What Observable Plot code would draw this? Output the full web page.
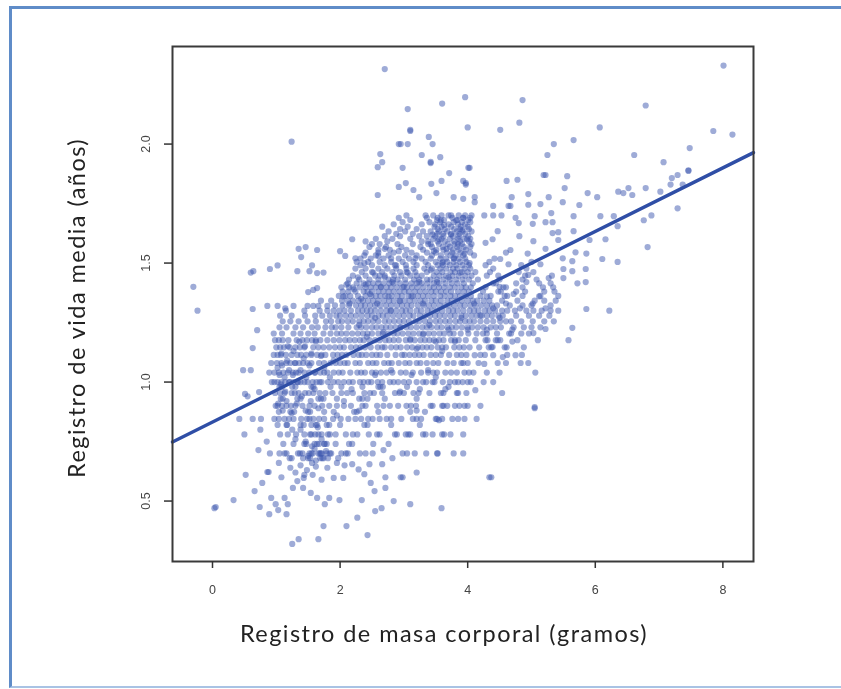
<!DOCTYPE html>
<html><head><meta charset="utf-8">
<script src="https://cdn.jsdelivr.net/npm/d3@7"></script>
<script src="https://cdn.jsdelivr.net/npm/@observablehq/plot@0.6"></script>
<style>
html,body{margin:0;padding:0;background:#fff;width:841px;height:689px;overflow:hidden}
#chart{position:absolute;left:0;top:0}
#chart svg{filter:blur(0.55px);background:transparent}
.spaced text{letter-spacing:1.45px}
#edge{position:absolute;left:9px;top:6px;width:840px;height:677px;border:3px solid #5f8cc8;border-bottom:2px solid #a9c3e4;box-sizing:content-box}
</style></head><body>
<div id="edge"></div>
<div id="chart"></div>
<script>
const xTicks = [0, 2, 4, 6, 8];
const yTicks = [0.5, 1.0, 1.5, 2.0];
const xTitle = "Registro de masa corporal (gramos)";
const yTitle = "Registro de vida media (años)";
const fitX = [-0.627, 8.48];
const fitY = [0.748, 1.964];

const scattered = [
[.03,.47],[-.3,1.40],[-.235,1.30],[1.24,2.01],[2.70,2.315],[8.01,2.33],[4.37,.60],[5.05,.895],
[3.06,2.147],[3.10,2.06],[3.10,2.055],[3.6,2.17],[3.96,2.197],[4.0,2.07],[2.92,2.0],[2.95,2.0],[3.06,2.0],[3.39,2.03],[3.45,2.0],[2.63,1.958],[2.66,1.924],[2.59,1.903],[3.28,1.954],[3.57,1.945],[3.42,1.92],[3.42,1.925],[2.98,1.90],[4.01,1.90],[3.71,1.878],[3.59,1.845],[3.43,1.833],[3.93,1.845],[3.97,1.83],[3.03,1.836],[2.92,1.82],[3.15,1.807],[2.59,1.786],[3.51,1.794],[3.24,1.777],[3.78,1.777],[3.93,1.77],
[4.86,2.185],[6.79,2.162],[4.81,2.09],[4.51,2.06],[6.07,2.07],[7.85,2.055],[8.15,2.04],[5.35,2.0],[5.66,2.017],[5.25,1.954],[6.61,1.954],[7.48,1.983],[7.07,1.924],[4.03,1.90],[7.46,1.887],[7.46,1.89],[5.19,1.87],[5.22,1.87],[5.56,1.865],[7.29,1.87],[7.2,1.857],[7.18,1.83],[4.61,1.845],[4.78,1.85],[5.52,1.815],[6.79,1.815],[6.52,1.815],[6.36,1.8],[6.44,1.794],[6.58,1.786],[7.02,1.80],[7.37,1.83],[5.88,1.794],[6.03,1.777],[3.97,1.836],[4.11,1.777],[4.11,1.756],[4.69,1.777],[4.95,1.79],[5.27,1.777],[4.4,1.74],[4.64,1.74],[4.67,1.74],[4.95,1.745],[5.14,1.748],[5.49,1.756],[5.75,1.744],[7.29,1.73],[4.26,1.70],[4.4,1.70],[4.53,1.70],[4.75,1.69],[4.8,1.668],[5.05,1.697],[5.31,1.71],[5.66,1.697],[6.08,1.697],[6.29,1.697],[5.22,1.672],[5.33,1.672],[6.76,1.68],[6.88,1.70],[5.02,1.665],[4.47,1.634],[4.81,1.613],[5.33,1.626],[5.42,1.63],[5.66,1.634],[6.35,1.655],[6.16,1.60],[5.91,1.597],[6.82,1.567],[5.03,1.592],[5.42,1.597],[4.39,1.60],[4.28,1.585],[4.67,1.555],[5.69,1.545],[5.86,1.54],[6.11,1.517],[6.35,1.505],[5.49,1.52],[5.64,1.508],[4.51,1.517],[4.64,1.495],[4.94,1.54],[5.22,1.56],[5.85,1.475],[5.5,1.475],[5.64,1.466],[5.5,1.437],[5.72,1.415],[5.85,1.42],[4.95,1.45],[5.27,1.437],[5.14,1.495],
[5.86,1.307],[6.22,1.30],[5.64,1.228],[5.58,1.176],[5.22,1.223],[5.03,1.206],[5.06,1.04],[5.05,.89],[4.34,.60],[3.93,.70],[4.54,.954],[4.4,1.0],[4.12,.966],[4.2,.90],[4.0,.90],[4.14,.845],[3.95,.845],[4.0,1.0],[4.83,1.08],[4.95,1.08],[4.75,1.113],[4.55,1.105],[4.47,1.08],[4.26,1.076],[4.0,1.08],[4.09,1.04],[4.11,1.113],[4.4,1.113],[4.39,1.147],[4.51,1.176],[4.7,1.17],
[.05,.475],[.33,.504],[.52,.61],[.66,.542],[.78,.576],[.86,.622],[.88,.622],[.74,.475],[.89,.445],[.92,.513],[.99,.487],[1.03,.462],[1.16,.445],[1.13,.513],[1.18,.487],[1.08,.60],[1.25,.32],[1.35,.34],[1.66,.34],[1.74,.395],[2.1,.395],[2.27,.43],[2.43,.357],[1.83,.513],[1.99,.504],[2.34,.504],[1.76,.487],[1.64,.513],[1.54,.534],[1.42,.555],[1.26,.555],[1.33,.584],[1.43,.597],[1.57,.61],[1.71,.59],[1.9,.597],[2.05,.597],[2.07,.65],[2.19,.655],[2.29,.633],[2.38,.613],[2.48,.576],[2.54,.542],[2.71,.555],[2.71,.60],[2.95,.60],[2.98,.60],[3.2,.62],[2.84,.50],[3.1,.487],[3.59,.47],[2.55,.458],[2.65,.47],[2.46,.655],[2.66,.655],[2.82,.68],[2.51,.70],[2.68,.714],[2.98,.70],[3.05,.70],[3.17,.70],[3.35,.70],[3.52,.70],[3.53,.70],[3.78,.70],
[1.3,.62],[1.38,.65],[1.22,.64],[1.48,.63],[1.62,.645],[1.8,.64],[1.95,.66],[1.04,.66],[1.56,.66],[1.44,.61],
[.64,1.466],[.6,1.46],[.9,1.475],[1.02,1.49],[1.35,1.56],[1.46,1.567],[1.64,1.555],[1.39,1.525],[1.33,1.466],[1.56,1.49],[1.52,1.466],[1.64,1.458],[1.74,1.46],[1.5,1.378],[1.58,1.387],[1.64,1.395],[.63,1.307],[.86,1.32],[1.02,1.32],[1.14,1.31],[1.27,1.32],[1.49,1.32],[1.58,1.32],[1.66,1.32],[1.8,1.32],[2.19,1.6],[2,1.55],[2.08,1.53],
[.7,1.218],[.63,1.143],[.48,1.05],[.6,1.05],[.51,.95],[.55,.94],[.73,.958],[.42,.845],[.63,.845],[.76,.845],[.5,.78],[.75,.8],[.72,.714],[.9,.70],[.85,.75]
];

const clumps = [
[1.02,1.06],[1.05,1.03],[1.09,1.07],[1.13,1.02],[1.17,1.09],[1.2,1.05],[1.07,.99],[1.14,.96],[1.2,1.0],[1.26,1.03],[1.3,1.08],[1.34,1.0],[1.38,1.05],[1.43,1.1],[1.47,1.02],[1.52,1.07],[1.08,1.12],[1.18,1.15],[1.27,1.13],[1.36,1.17],[1.45,1.15],[1.55,1.12],[1.62,1.17],[1.7,1.11],[1.61,1.04],[1.68,1.0],[1.75,1.06],[1.84,1.02],[1.9,1.09],[1.03,.91],[1.1,.88],[1.16,.92],[1.24,.87],[1.32,.91],[1.4,.94],[1.46,.88],[1.54,.92],[1.6,.97],[1.66,.89],[1.74,.93],[1.3,.76],[1.38,.8],[1.46,.75],[1.55,.78],[1.6,.72],[1.65,.81],[1.71,.76],[1.78,.71],[1.84,.78],[1.5,.69],[1.56,.73],[1.62,.67],[1.68,.7],[1.75,.74],[1.16,.82],[1.25,.8],[1.95,.86],[2.06,.92],[2.18,.97],[2.3,.88],[2.43,.93],[2.55,1.03],[2.67,.98],[2.8,1.05],[2.94,.96],[3.12,1.03],[3.25,.97],[3.38,1.05],[3.5,1.02],[3.65,.97],[3.55,.84],[3.2,.88],
[2.05,1.36],[2.1,1.41],[2.15,1.33],[2.22,1.39],[2.28,1.44],[2.33,1.35],[2.4,1.41],[2.47,1.37],[2.52,1.46],[2.58,1.33],[2.64,1.4],[2.7,1.44],[2.76,1.36],[2.82,1.42],[2.88,1.49],[2.94,1.34],[3.0,1.4],[3.06,1.46],[3.12,1.36],[3.18,1.52],[3.24,1.42],[3.3,1.33],[2.6,1.53],[2.7,1.56],[2.8,1.52],[2.92,1.55],[2.5,1.58],[2.38,1.5],[2.24,1.52],
[3.42,1.47],[3.47,1.55],[3.52,1.42],[3.55,1.6],[3.6,1.5],[3.63,1.66],[3.67,1.56],[3.7,1.44],[3.74,1.62],[3.78,1.52],[3.82,1.68],[3.85,1.58],[3.88,1.46],[3.92,1.64],[3.95,1.54],[3.99,1.6],[4.03,1.5],[3.58,1.68],[3.7,1.7],[3.93,1.69],[3.45,1.62],[3.38,1.58],
[3.1,1.18],[3.2,1.14],[3.3,1.2],[3.4,1.24],[3.5,1.17],[3.6,1.13],[3.7,1.22],[3.8,1.17],[3.9,1.27],[4.0,1.22],[4.1,1.33],[4.2,1.28],[4.3,1.36],[4.4,1.31],[4.5,1.4],[4.6,1.33],[4.72,1.37],[4.82,1.31],[4.92,1.42],[5.02,1.33],[5.12,1.36],[5.22,1.31],[4.3,1.22],[4.5,1.27],[4.7,1.22],[2.3,1.24],[2.42,1.19],[2.55,1.27],[2.68,1.21],[2.8,1.3],[2.95,1.23]
];

const levels = [.68,.70,.74,.78,.82,.845,.875,.90,.93,.954,.98,1.0,1.04,1.08,1.114,1.146,1.176,1.204,1.23,1.255,1.279,1.30,1.322,1.342,1.362,1.38,1.398,1.415,1.431,1.447,1.462,1.477,1.491,1.505,1.519,1.532,1.544,1.556,1.568,1.58,1.591,1.602,1.613,1.623,1.633,1.643,1.653,1.663,1.672,1.681,1.69,1.70];

const r068=[1.21,1.24,1.42,1.5,1.53,1.69,1.72,1.74,1.81,1.97];
const r070=[1.05,1.13,1.16,1.34,1.37,1.41,1.52,1.55,1.57,1.66,1.7,1.71,1.79,1.84,1.86,2.02,2.09,2.12,2.31,2.4];
const r074=[1.11,1.27,1.44,1.47,1.6,1.64,1.67,1.76,1.79,1.93,2.14,2.19,2.52,2.76];
const r078=[1.06,1.31,1.18,1.44,1.53,1.61,1.71,1.66,1.81,1.93,2.09,2.27,2.2,2.45,2.58,2.62,2.86,2.89,3.03,3.07,3.1,3.3,3.34,3.45,3.6,3.63,3.73,3.93];
const r082=[1.02,1.17,1.38,1.43,1.55,1.62,1.64,1.79,1.83,2.0,2.38,2.43,2.8,3.25];
const r085=[.97,1.04,1.2,1.13,1.27,1.48,1.39,1.58,1.52,1.67,1.75,1.89,2.01,2.24,2.13,2.33,2.51,2.44,2.62,2.8,2.73,2.96,3.14,3.2,3.27,3.5,3.52,3.6,3.76,3.85];
const r088=[1.04,1.22,1.28,1.5,1.53,1.75,1.9,2.22,2.26,2.6,3.1,3.33];
const r090=[1.09,.99,1.23,1.16,1.41,1.3,1.02,1.6,1.52,1.72,1.83,1.95,2.17,2.06,2.35,2.4,2.58,2.68,2.91,2.78,3.11,3.04,3.19,3.42,3.45,3.6,3.62,3.68,3.8,3.87,3.95];
const r093=[1.07,1.1,1.33,1.38,1.66,1.7,1.95,2.3,2.35,2.7,3.2];
const r095=[.98,1.13,1.06,1.24,1.35,1.45,1.29,1.58,1.68,1.51,1.88,1.77,2.02,2.2,2.11,2.38,2.53,2.47,2.66,2.86,3.0,2.93,3.23,3.15,3.4,3.62,3.58,3.83,3.85,3.98];
const r098=[1.05,1.09,1.25,1.3,1.55,1.58,1.85,2.02,2.35,2.6,2.63,3.05,3.7];
const r100=[.93,1.02,1.08,1.21,.97,1.33,1.14,1.27,1.44,1.38,1.57,1.49,1.71,1.63,1.81,1.97,1.9,2.06,2.2,2.14,2.37,2.31,2.49,2.44,2.66,2.78,2.59,2.91,2.84,3.08,3.0,3.2,3.3,3.35,3.45,3.48,3.61,3.72,3.8,3.85,3.92,4.05,4.25];
const r104=[.89,1.11,.97,1.04,1.26,1.18,1.35,1.52,1.31,1.44,1.69,1.6,1.8,1.75,1.98,1.9,2.16,2.04,2.27,2.39,2.33,2.56,2.5,2.73,2.64,2.95,2.82,3.14,3.03,3.27,3.38,3.52,3.46,3.65,3.74,3.83,3.95,4.02,4.3,4.5];
const r108=[1.01,.92,1.16,1.08,1.29,1.22,1.42,1.36,1.55,1.67,1.49,1.85,1.75,2.0,1.93,2.12,2.24,2.07,2.44,2.31,2.57,2.69,2.51,2.81,2.92,2.76,3.09,3.2,3.02,3.36,3.26,3.54,3.46,3.68,3.78,3.9,3.93,4.17,4.6];
const r111=[.96,1.07,1.02,1.24,1.33,1.15,1.47,1.39,1.64,1.55,1.77,1.71,1.89,2.03,1.96,2.21,2.1,2.34,2.29,2.5,2.41,2.63,2.74,2.57,2.87,3.01,2.97,3.17,3.09,3.31,3.42,3.24,3.58,3.71,3.5,3.83,3.9,3.98,4.2,4.27,4.62,4.85];
const r115=[1.0,1.12,1.06,1.3,1.21,1.44,1.58,1.37,1.74,1.66,1.92,1.83,2.06,2.17,2.0,2.32,2.25,2.48,2.59,2.39,2.7,2.66,2.88,2.8,3.05,2.95,3.22,3.13,3.36,3.29,3.53,3.43,3.66,3.6,3.79,3.94,3.87,4.03,4.18,4.33,4.37,4.58,4.61,4.88];
const r118=[1.04,1.19,.98,1.1,1.41,1.32,1.56,1.48,1.69,1.8,1.62,1.99,1.9,2.08,2.23,2.15,2.37,2.31,2.55,2.46,2.71,2.62,2.84,2.92,2.77,3.1,3.03,3.26,3.17,3.4,3.33,3.55,3.47,3.74,3.62,3.86,3.97,3.8,4.12,4.28,4.31,4.44,4.47,4.78,5.1];
const r120=[.96,1.27,1.09,1.5,1.38,1.6,1.74,1.85,1.95,2.1,2.02,2.28,2.19,2.43,2.36,2.6,2.5,2.76,2.67,2.9,2.84,3.07,2.98,3.24,3.15,3.39,3.31,3.56,3.47,3.72,3.63,3.89,3.78,4.01,4.14,4.3,4.24,4.46,4.65,4.68,4.84,4.96];
const r123=[1.05,1.16,1.3,1.56,1.42,1.77,1.65,1.93,1.87,2.13,2.02,2.26,2.41,2.33,2.57,2.5,2.72,2.65,2.87,2.79,3.04,2.95,3.2,3.11,3.36,3.29,3.52,3.43,3.68,3.59,3.82,3.75,4.0,3.91,4.16,4.07,4.36,4.25,4.52,4.44,4.72,4.88,5.0,5.14];
const r125=[1.1,1.35,1.22,1.62,1.49,1.86,1.78,2.03,1.97,2.2,2.12,2.37,2.3,2.52,2.44,2.7,2.6,2.85,2.77,3.0,2.93,3.18,3.08,3.33,3.24,3.5,3.41,3.65,3.57,3.81,3.72,3.96,3.88,4.1,4.03,4.3,4.2,4.51,4.4,4.68,4.6,4.84,5.02,5.2,5.35];
const r128=[1.24,1.06,1.45,1.72,1.61,1.94,1.84,2.09,2.17,2.25,2.0,2.43,2.34,2.6,2.5,2.74,2.67,2.92,2.83,3.09,3.0,3.25,3.15,3.41,3.33,3.56,3.49,3.73,3.64,3.9,3.8,4.06,3.97,4.22,4.14,4.38,4.3,4.55,4.48,4.76,4.96,5.12,5.28];
const r130=[1.15,1.44,1.68,1.9,1.8,2.07,1.99,2.28,2.17,2.42,2.35,2.55,2.48,2.73,2.64,2.88,2.79,3.03,2.97,3.2,3.1,3.37,3.27,3.52,3.44,3.7,3.6,3.84,3.77,4.03,3.93,4.17,4.1,4.34,4.27,4.54,4.43,4.74,4.62,4.92,5.03,5.16,5.3,5.42];
const r132=[1.92,2.14,2.04,2.33,2.25,2.47,2.39,2.63,2.55,2.8,2.72,2.97,2.89,3.12,3.05,3.31,3.22,3.47,3.39,3.64,3.56,3.79,3.71,3.95,3.88,4.12,4.04,4.3,4.21,4.46,4.38,4.66,4.86,5.0,5.3];
const r134=[1.7,1.86,2.03,2.2,2.12,2.36,2.29,2.52,2.44,2.69,2.6,2.84,2.77,3.01,2.93,3.17,3.09,3.33,3.26,3.5,3.43,3.68,3.58,3.83,3.75,4.0,3.91,4.15,4.08,4.34,4.54,4.25,4.78,5.05,5.2,5.38];
const r136=[1.98,2.16,2.08,2.4,2.28,2.56,2.49,2.71,2.63,2.9,2.81,3.07,2.97,3.22,3.14,3.38,3.3,3.57,3.47,3.73,3.64,3.88,3.8,4.05,3.97,4.2,4.36,4.58,4.62,4.86,5.14,5.42];
const r138=[2.04,2.24,2.13,2.37,2.5,2.43,2.68,2.6,2.84,2.76,3.01,2.93,3.17,3.08,3.34,3.25,3.5,3.43,3.66,3.58,3.85,3.74,4.02,3.94,4.24,4.48,4.52,4.76,4.9,5.2,5.36];
const r140=[2.02,2.2,2.31,2.14,2.48,2.56,2.4,2.73,2.64,2.89,2.8,3.05,2.98,3.21,3.13,3.4,3.3,3.55,3.47,3.72,3.63,3.9,3.8,4.05,3.97,4.28,4.56,4.6,4.86,5.18,5.34];
const r142=[2.12,2.37,2.26,2.52,2.44,2.68,2.6,2.84,2.77,3.03,2.94,3.2,3.12,3.37,3.28,3.55,3.47,3.75,3.65,3.94,3.84,4.08,4.4,4.44,4.76,5.12,5.3];
const r143=[2.3,2.14,2.6,2.46,2.76,2.9,2.83,3.02,3.24,3.16,3.42,3.36,3.52,3.72,3.62,3.82,4.02,3.92,4.16,4.5,4.86,5.08];
const r145=[2.2,2.4,2.55,2.7,2.62,2.96,2.85,3.1,3.28,3.2,3.47,3.56,3.76,3.66,3.86,4.06,3.96,4.3,4.48,4.9,5.32];
const r146=[2.34,2.5,2.66,2.82,2.94,3.04,3.18,3.36,3.51,3.6,3.73,3.8,4.0,3.91,4.12,4.35,4.8,5.03];
const r148=[2.4,2.24,2.74,2.6,3.04,2.88,3.32,3.15,3.57,3.44,3.77,3.66,3.84,4.04,3.95,4.4,4.92];
const r149=[2.5,2.32,2.86,2.7,3.2,3.03,3.53,3.38,3.72,3.61,3.92,3.82,4.02,4.28,4.84];
const r150=[2.26,2.62,2.44,2.98,2.8,3.34,3.15,3.61,3.5,3.78,3.68,3.98,3.88,4.34,5.0];
const r152=[2.48,2.32,2.92,2.68,3.28,3.08,3.57,3.42,3.79,3.66,3.96,3.86,4.42];
const r153=[2.56,2.38,3.02,2.76,3.44,3.2,3.73,3.58,3.93,3.81,4.1];
const r154=[2.4,2.84,2.6,3.36,3.12,3.67,3.5,3.89,3.76,4.04,4.6];
const r156=[2.6,3.04,2.78,3.51,3.3,3.77,3.62,3.97,3.86];
const r157=[2.72,2.46,3.26,2.96,3.61,3.44,3.84,3.72,4.04,3.94];
const r158=[2.62,2.9,3.42,3.14,3.69,3.55,3.91,3.79,4.06];
const r159=[2.74,2.4,3.28,3.53,3.38,3.79,3.64,4.02,3.88];
const r160=[2.82,3.1,2.56,3.59,3.46,3.85,3.72,4.04,3.94];
const r161=[2.7,3.24,2.94,3.49,3.36,3.77,3.62,4.01,3.86];
const r162=[2.88,3.14,3.61,3.52,3.87,3.74,3.96];
const r163=[2.76,3.3,3.02,3.55,3.42,3.83,3.68,4.06,3.92];
const r164=[2.94,3.53,3.2,3.79,3.64,4.02,3.88];
const r165=[3.06,2.66,3.59,3.48,3.89,3.74,4.0];
const r166=[2.84,3.49,3.28,3.85,3.7,3.96];
const r167=[2.98,3.57,3.4,3.91,3.78,4.04];
const r168=[3.1,3.63,3.52,4.01,3.84];
const r169=[2.92,3.53,3.36,3.93,3.76,4.04];
const r170=[3.04,3.34,3.59,3.46,3.74,3.86,3.96,4.06];
const rows=[r068,r070,r074,r078,r082,r085,r088,r090,r093,r095,r098,r100,r104,r108,r111,r115,r118,r120,r123,r125,r128,r130,r132,r134,r136,r138,r140,r142,r143,r145,r146,r148,r149,r150,r152,r153,r154,r156,r157,r158,r159,r160,r161,r162,r163,r164,r165,r166,r167,r168,r169,r170];

const points = [...scattered,...clumps];
rows.forEach((xs,i)=>xs.forEach(x=>points.push([x,levels[i]])));

const textFont = "Lato, sans-serif";
const tickFont = "'Liberation Sans', sans-serif";
const chart = Plot.plot({
  width:841,height:689,
  marginLeft:172,marginRight:88,marginTop:46,marginBottom:128,
  style:{background:"transparent",overflow:"visible"},
  x:{domain:[-0.627,8.48]},
  y:{domain:[0.246,2.41]},
  marks:[
    Plot.dot(points,{x:d=>d[0],y:d=>d[1],r:3.1,fill:"#3d58b0",fillOpacity:0.5,stroke:"none"}),
    Plot.line(fitX.map((x,i)=>[x,fitY[i]]),{x:d=>d[0],y:d=>d[1],stroke:"#2f4ea6",strokeWidth:3.4}),
    Plot.frame({stroke:"#3a3a3a",strokeWidth:2}),
    Plot.axisX({ticks:xTicks,tickFormat:d3.format("d"),tickSize:7,tickPadding:17,label:null,fontSize:12.5,fontFamily:tickFont,color:"#444",stroke:"#333",strokeWidth:1.5}),
    Plot.axisY({ticks:yTicks,tickFormat:d3.format(".1f"),tickSize:8,tickRotate:-90,tickPadding:15,label:null,fontSize:12.5,fontFamily:tickFont,color:"#444",stroke:"#333",strokeWidth:1.5}),
    Plot.text([xTitle],{frameAnchor:"bottom",dx:-19,dy:80,fontSize:23.5,fontFamily:textFont,fill:"#222",className:"spaced"}),
    Plot.text([yTitle],{frameAnchor:"left",textAnchor:"middle",rotate:-90,dx:-95,dy:4,fontSize:23.5,fontFamily:textFont,fill:"#222",className:"spaced"})
  ]
});
document.getElementById("chart").appendChild(chart);
</script>
</body></html>
